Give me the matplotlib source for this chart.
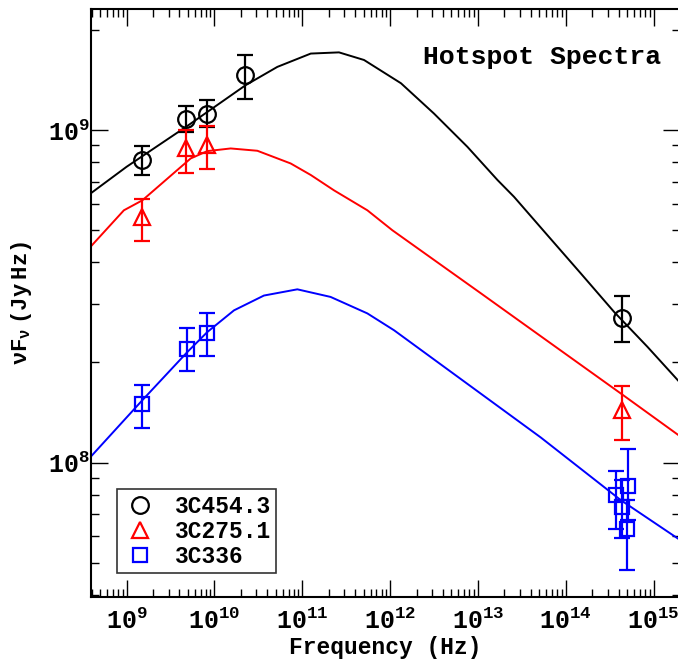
import matplotlib
matplotlib.use('Agg')
import matplotlib.pyplot as plt
from matplotlib.ticker import FixedLocator, LogLocator, FuncFormatter, NullFormatter
import numpy as np

plt.rcParams['font.family'] = ['Liberation Mono', 'DejaVu Sans']
plt.rcParams['font.weight'] = 'bold'
plt.rcParams['mathtext.fontset'] = 'custom'
plt.rcParams['mathtext.rm'] = 'Liberation Mono:bold'
plt.rcParams['mathtext.bf'] = 'Liberation Mono:bold'
plt.rcParams['mathtext.it'] = 'Liberation Mono:bold'

# 3C454.3 (black circles)
nu_454 = [1.5e9, 4.8e9, 8.3e9, 2.22e10, 4.35e14]
f_454 = [8.12e8, 1.084e9, 1.117e9, 1.465e9, 2.72e8]
f_454_hi = [8.95e8, 1.18e9, 1.23e9, 1.68e9, 3.16e8]
f_454_lo = [7.33e8, 9.88e8, 1.023e9, 1.245e9, 2.31e8]

# 3C275.1 (red triangles)
nu_275 = [1.5e9, 4.8e9, 8.3e9, 4.4e14]
f_275 = [5.49e8, 8.81e8, 9.01e8, 1.44e8]
f_275_hi = [6.22e8, 1.0e9, 1.03e9, 1.70e8]
f_275_lo = [4.64e8, 7.41e8, 7.62e8, 1.17e8]

# 3C336 (blue squares)
nu_336 = [1.5e9, 4.9e9, 8.3e9, 3.71e14, 5.05e14, 4.35e14, 4.92e14]
f_336 = [1.495e8, 2.20e8, 2.45e8, 7.96e7, 8.49e7, 7.35e7, 6.30e7]
f_336_hi = [1.71e8, 2.54e8, 2.82e8, 9.44e7, 1.10e8, 8.85e7, 7.71e7]
f_336_lo = [1.27e8, 1.88e8, 2.09e8, 6.31e7, 6.70e7, 5.94e7, 4.74e7]

# model curves
mod_nu_454 = [3.89e8, 1.0e9, 5.0e9, 2.26e10, 5.2e10, 1.25e11, 2.62e11, 5.05e11, 1.33e12,
              3.16e12, 7.59e12, 1.67e13, 2.58e13, 6.19e13, 1.48e14, 3.55e14, 8.51e14, 2.0e15]
mod_f_454 = [6.45e8, 7.76e8, 1.033e9, 1.365e9, 1.55e9, 1.70e9, 1.714e9, 1.626e9, 1.384e9,
             1.122e9, 8.91e8, 7.08e8, 6.30e8, 4.83e8, 3.71e8, 2.84e8, 2.23e8, 1.74e8]

mod_nu_275 = [3.89e8, 9.31e8, 1.51e9, 5.36e9, 8.3e9, 1.53e10, 3.08e10, 7.38e10, 1.25e11,
              2.30e11, 5.51e11, 1.06e12, 1.08e13, 4.18e13, 4.43e14, 2.0e15]
mod_f_275 = [4.46e8, 5.74e8, 6.15e8, 8.22e8, 8.65e8, 8.81e8, 8.67e8, 7.94e8, 7.33e8,
             6.59e8, 5.74e8, 5.00e8, 3.23e8, 2.50e8, 1.60e8, 1.20e8]

mod_nu_336 = [3.89e8, 1.51e9, 4.91e9, 8.3e9, 1.67e10, 3.66e10, 8.79e10, 2.10e11, 5.51e11,
              1.11e12, 5.19e13, 4.23e14, 2.0e15]
mod_f_336 = [1.04e8, 1.54e8, 2.15e8, 2.47e8, 2.87e8, 3.18e8, 3.32e8, 3.15e8, 2.81e8,
             2.50e8, 1.19e8, 7.71e7, 5.85e7]

x_major = [1e9, 1e10, 1e11, 1e12, 1e13, 1e14, 1e15]
y_major = [1e8, 1e9]

fig = plt.figure(figsize=(6.78, 6.59), dpi=100)
ax = fig.add_axes([90.7/678, 62/659, (680-90.7)/678, 587.7/659])
ax.set_xscale('log')
ax.set_yscale('log')

ax.plot(mod_nu_454, mod_f_454, '-', color='k', lw=1.4)
ax.plot(mod_nu_275, mod_f_275, '-', color='red', lw=1.4)
ax.plot(mod_nu_336, mod_f_336, '-', color='blue', lw=1.4)


def err(f, hi, lo):
    f = np.array(f)
    return [f - np.array(lo), np.array(hi) - f]


ekw = dict(linestyle='none', mfc='none', mew=1.6, elinewidth=1.6, capsize=6, capthick=1.6)
ax.errorbar(nu_454, f_454, yerr=err(f_454, f_454_hi, f_454_lo), fmt='o', color='k', ms=12, **ekw)
ax.errorbar(nu_275, f_275, yerr=err(f_275, f_275_hi, f_275_lo), fmt='^', color='red', ms=12, **ekw)
ax.errorbar(nu_336, f_336, yerr=err(f_336, f_336_hi, f_336_lo), fmt='s', color='blue', ms=10, **ekw)

ax.set_xlim(3.9e8, 2.0e15)
ax.set_ylim(3.94e7, 2.31e9)

fmt = FuncFormatter(lambda v, p: r'$\mathbf{10^{%d}}$' % int(round(np.log10(v))))
ax.xaxis.set_major_locator(FixedLocator(x_major))
ax.yaxis.set_major_locator(FixedLocator(y_major))
ax.xaxis.set_minor_locator(LogLocator(base=10, subs=np.arange(2, 10), numticks=20))
ax.yaxis.set_minor_locator(LogLocator(base=10, subs=np.arange(2, 10), numticks=20))
ax.xaxis.set_major_formatter(fmt)
ax.yaxis.set_major_formatter(fmt)
ax.xaxis.set_minor_formatter(NullFormatter())
ax.yaxis.set_minor_formatter(NullFormatter())

ax.tick_params(which='both', direction='in', top=True, right=True, width=1.0)
ax.tick_params(which='major', length=12, labelsize=18)
ax.tick_params(which='minor', length=6)
ax.tick_params(axis='x', pad=8)
ax.tick_params(axis='y', pad=1)
for s in ax.spines.values():
    s.set_linewidth(1.5)

ax.set_xlabel('Frequency (Hz)', fontsize=16.5, fontweight='bold', va='baseline')
ax.xaxis.set_label_coords(0.5, (597 - 654) / 587.7)
ax.set_ylabel(r'$\mathbf{\nu F_{\nu}\ (Jy\ Hz)}$', fontsize=16, labelpad=10)

ax.text(0.968, 0.919, 'Hotspot Spectra', transform=ax.transAxes, ha='right', va='center',
        fontsize=19, fontweight='bold')

h1, = ax.plot([], [], 'o', color='k', mfc='none', mew=1.6, ms=12, label='3C454.3')
h2, = ax.plot([], [], '^', color='red', mfc='none', mew=1.6, ms=12, label='3C275.1')
h3, = ax.plot([], [], 's', color='blue', mfc='none', mew=1.6, ms=10, label='3C336')
leg = ax.legend(handles=[h1, h2, h3], loc='lower left', bbox_to_anchor=(0.045, 0.04),
                fontsize=16.5, frameon=True, fancybox=False, edgecolor='k',
                handlelength=1.5, handletextpad=0.75, borderpad=0.25, labelspacing=0.08,
                borderaxespad=0)
leg.get_frame().set_linewidth(1.2)

plt.savefig('out.png', dpi=100)
